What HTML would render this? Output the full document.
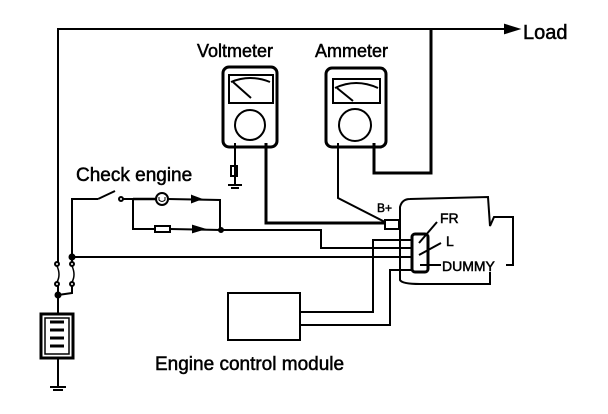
<!DOCTYPE html>
<html><head><meta charset="utf-8"><style>
html,body{margin:0;padding:0;background:#fff;}
svg{display:block}
text{font-family:"Liberation Sans",sans-serif;fill:#000;stroke:#000;stroke-width:0.5}
</style></head><body>
<svg width="608" height="414" viewBox="0 0 608 414" xmlns="http://www.w3.org/2000/svg">
<g fill="none" stroke="#000" stroke-width="2">
<polyline points="58,295 58,29 505,29"/>
<polygon points="505,25 518,29 505,33" fill="#000"/>
<polyline points="374,143 374,173 431,173 431,29" stroke-width="3"/>
<polyline points="338,143 338,198 385,222" stroke-width="2"/>
<rect x="223" y="67" width="54" height="80" rx="6" stroke-width="3"/>
<rect x="229" y="75" width="44" height="28" stroke-width="2"/>
<path d="M231 82 Q250 74 270 82" stroke-width="2"/>
<line x1="233" y1="82" x2="251" y2="98" stroke-width="2"/>
<circle cx="250" cy="125" r="15" stroke-width="2"/>
<polyline points="266,143 266,223 385,223" stroke-width="3"/>
<line x1="235" y1="143" x2="235" y2="185" stroke-width="2"/>
<rect x="231" y="166" width="6" height="10" stroke-width="2"/>
<line x1="228" y1="185" x2="242" y2="185" stroke-width="2"/>
<line x1="231" y1="188" x2="239" y2="188"/>
<rect x="326" y="68" width="60" height="79" rx="6" stroke-width="3"/>
<rect x="333" y="79" width="47" height="24" stroke-width="2"/>
<path d="M335 88 Q356 78 378 88" stroke-width="2"/>
<line x1="337" y1="88" x2="353" y2="101" stroke-width="2"/>
<circle cx="355" cy="125" r="16" stroke-width="2"/>
<rect x="385" y="220" width="14" height="9" stroke-width="2"/>
<path d="M400 280 L400 207 Q402 199 410 199 L488 197 L490 226 L494 217 L513 217 L513 265 L506 265"/>
<path d="M400 270 L400 280 Q402 284 420 284 L490 284 L490 272"/>
<rect x="412" y="234" width="16" height="38" rx="3" stroke-width="3"/>
<line x1="419" y1="243" x2="437" y2="222"/>
<line x1="419" y1="255" x2="441" y2="243"/>
<line x1="420" y1="265" x2="441" y2="265" stroke-width="2"/>
<polyline points="72,293 72,199 98,199"/>
<line x1="98" y1="199" x2="115" y2="191"/>
<circle cx="121" cy="199" r="2" fill="#fff"/>
<line x1="123" y1="199" x2="133" y2="199"/>
<polyline points="133,199 156,199" stroke-width="2.5"/>
<circle cx="162" cy="199" r="6" stroke-width="2"/>
<path d="M159 197 v3 q3 3 6 0 v-3" stroke-width="1"/>
<polyline points="168,199 220,200 220,230"/>
<polygon points="192,196 200,199 192,202" fill="#000"/>
<polyline points="133,199 133,229 155,229"/>
<path d="M155 226 h15 v6 h-15z" stroke-width="2"/>
<polyline points="170,229 221,230 321,230 321,248 412,248"/>
<polygon points="193,226 203,229 193,232" fill="#000"/>
<circle cx="221" cy="230" r="2" fill="#000"/>
<polyline points="72,257 412,257"/>
<polyline points="412,240 373,240 373,312 300,312"/>
<polyline points="300,325 390,325 390,270 412,270"/>
<circle cx="72" cy="257" r="2.5" fill="#000"/>
<line x1="58" y1="262" x2="58" y2="285" stroke="#fff" stroke-width="4"/>
<line x1="72" y1="262" x2="72" y2="285" stroke="#fff" stroke-width="4"/>
<circle cx="57" cy="264" r="2"/><circle cx="57" cy="284" r="2"/>
<circle cx="72" cy="264" r="2"/><circle cx="72" cy="284" r="2"/>
<path d="M57 266 q4 9 0 16" stroke-width="1.5"/><path d="M72 266 q4 9 0 16" stroke-width="1.5"/>
<polyline points="58,295 72,293 72,286"/>
<circle cx="58" cy="295" r="2.5" fill="#000"/>
<line x1="58" y1="295" x2="58" y2="314"/>
<rect x="41" y="314" width="32" height="44" stroke-width="3"/>
<rect x="45" y="318" width="24" height="36" stroke-width="1.5"/>
<g stroke-width="3"><line x1="50" y1="322" x2="64" y2="322"/><line x1="50" y1="330" x2="64" y2="330"/><line x1="50" y1="338" x2="64" y2="338"/><line x1="50" y1="346" x2="64" y2="346"/></g>
<line x1="58" y1="358" x2="58" y2="387"/>
<line x1="50" y1="387" x2="66" y2="387" stroke-width="2"/>
<line x1="53" y1="390" x2="63" y2="390"/>
<rect x="228" y="293" width="72" height="47" stroke-width="2"/>
</g>
<text x="197" y="57" font-size="18">Voltmeter</text>
<text x="315" y="57" font-size="18">Ammeter</text>
<text x="523" y="39" font-size="20">Load</text>
<text x="76" y="181" font-size="19">Check engine</text>
<text x="377" y="212" font-size="12">B+</text>
<text x="440" y="223" font-size="14">FR</text>
<text x="446" y="246" font-size="14">L</text>
<text x="442" y="271" font-size="14">DUMMY</text>
<text x="155" y="370" font-size="19">Engine control module</text>
</svg>
</body></html>
